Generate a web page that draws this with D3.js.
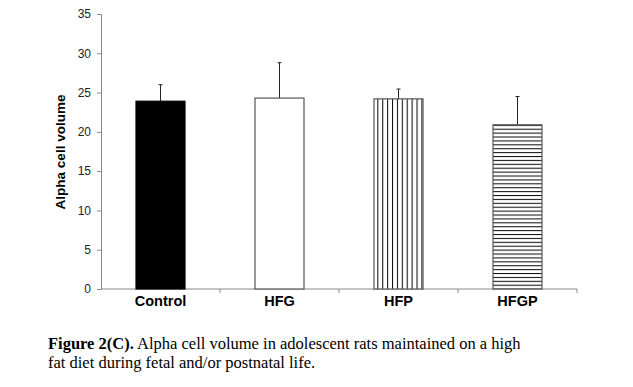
<!DOCTYPE html>
<html>
<head>
<meta charset="utf-8">
<script src="https://cdn.jsdelivr.net/npm/d3@7/dist/d3.min.js"></script>
<style>
  html, body { margin: 0; padding: 0; background: #fff; }
  svg { display: block; }
</style>
</head>
<body>
<svg id="chart" width="633" height="387"></svg>
<script>
const categories = ["Control", "HFG", "HFP", "HFGP"];
const means = [23.9, 24.3, 24.2, 20.9];
const errors = [2.1, 4.5, 1.25, 3.6];
const yTicks = [0, 5, 10, 15, 20, 25, 30, 35];
const yLabel = "Alpha cell volume";
const captionBold = "Figure 2(C).";
const captionLine1 = " Alpha cell volume in adolescent rats maintained on a high";
const captionLine2 = "fat diet during fetal and/or postnatal life.";

const svg = d3.select("#chart");
const defs = svg.append("defs");

// patterns
const pv = defs.append("pattern").attr("id", "vstripe")
  .attr("patternUnits", "userSpaceOnUse").attr("width", 4.9).attr("height", 10);
pv.append("rect").attr("width", 4.9).attr("height", 10).attr("fill", "#fff");
pv.append("line").attr("x1", 0.5).attr("x2", 0.5).attr("y1", 0).attr("y2", 10)
  .attr("stroke", "#111").attr("stroke-width", 1.1);

const ph = defs.append("pattern").attr("id", "hstripe")
  .attr("patternUnits", "userSpaceOnUse").attr("width", 10).attr("height", 3.9);
ph.append("rect").attr("width", 10).attr("height", 3.9).attr("fill", "#fff");
ph.append("line").attr("x1", 0).attr("x2", 10).attr("y1", 0.5).attr("y2", 0.5)
  .attr("stroke", "#111").attr("stroke-width", 1.1);

const fills = ["#000", "#fff", "url(#vstripe)", "url(#hstripe)"];

const x = d3.scaleBand().domain(categories).range([101, 577]).paddingInner(0).paddingOuter(0);
const y = d3.scaleLinear().domain([0, 35]).range([289, 14]);
const barW = 49;

// y axis
const yAxis = d3.axisLeft(y).tickValues(yTicks).tickSize(4).tickPadding(6);
const gy = svg.append("g").attr("transform", "translate(101,0)").call(yAxis);
gy.select(".domain").attr("stroke", "#888");
gy.selectAll(".tick line").attr("stroke", "#888");
gy.selectAll(".tick text").attr("font-family", "'Liberation Sans', Arial, sans-serif")
  .attr("font-size", 12).attr("fill", "#222");

// x axis
const gx = svg.append("g").attr("transform", "translate(0,289)");
gx.append("line").attr("x1", 101).attr("x2", 577).attr("y1", 0).attr("y2", 0).attr("stroke", "#888");
const boundaries = categories.map(c => x(c)).concat([x.range()[1]]);
gx.selectAll("line.tk").data(boundaries.slice(1)).enter().append("line")
  .attr("class", "tk").attr("x1", d => d).attr("x2", d => d).attr("y1", 0).attr("y2", 4)
  .attr("stroke", "#888");
gx.selectAll("text").data(categories).enter().append("text")
  .attr("x", d => x(d) + x.bandwidth() / 2).attr("y", 17)
  .attr("text-anchor", "middle")
  .attr("font-family", "'Liberation Sans', Arial, sans-serif")
  .attr("font-weight", "bold").attr("font-size", 14.5).attr("fill", "#000")
  .text(d => d);

// error bars
const eb = svg.append("g");
categories.forEach((c, i) => {
  const cx = x(c) + x.bandwidth() / 2;
  eb.append("line").attr("x1", cx).attr("x2", cx)
    .attr("y1", y(means[i])).attr("y2", y(means[i] + errors[i]))
    .attr("stroke", "#222").attr("stroke-width", 1);
  eb.append("line").attr("x1", cx - 2).attr("x2", cx + 2)
    .attr("y1", y(means[i] + errors[i])).attr("y2", y(means[i] + errors[i]))
    .attr("stroke", "#222").attr("stroke-width", 1);
});

// bars
svg.append("g").selectAll("rect").data(categories).enter().append("rect")
  .attr("x", d => x(d) + (x.bandwidth() - barW) / 2)
  .attr("y", (d, i) => y(means[i]))
  .attr("width", barW)
  .attr("height", (d, i) => y(0) - y(means[i]))
  .attr("fill", (d, i) => fills[i])
  .attr("stroke", (d, i) => i === 0 ? "#000" : "#555")
  .attr("stroke-width", 1.2);

// y label
svg.append("text")
  .attr("transform", "translate(65,152) rotate(-90)")
  .attr("text-anchor", "middle")
  .attr("font-family", "'Liberation Sans', Arial, sans-serif")
  .attr("font-weight", "bold").attr("font-size", 13.5).attr("fill", "#000")
  .text(yLabel);

// caption
const cap = svg.append("text")
  .attr("font-family", "'Liberation Serif', 'DejaVu Serif', serif")
  .attr("font-size", 16.5).attr("fill", "#000");
const t1 = cap.append("tspan").attr("x", 48).attr("y", 349);
t1.append("tspan").attr("font-weight", "bold").text(captionBold);
t1.append("tspan").text(captionLine1);
cap.append("tspan").attr("x", 48).attr("y", 368).text(captionLine2);
</script>
</body>
</html>
